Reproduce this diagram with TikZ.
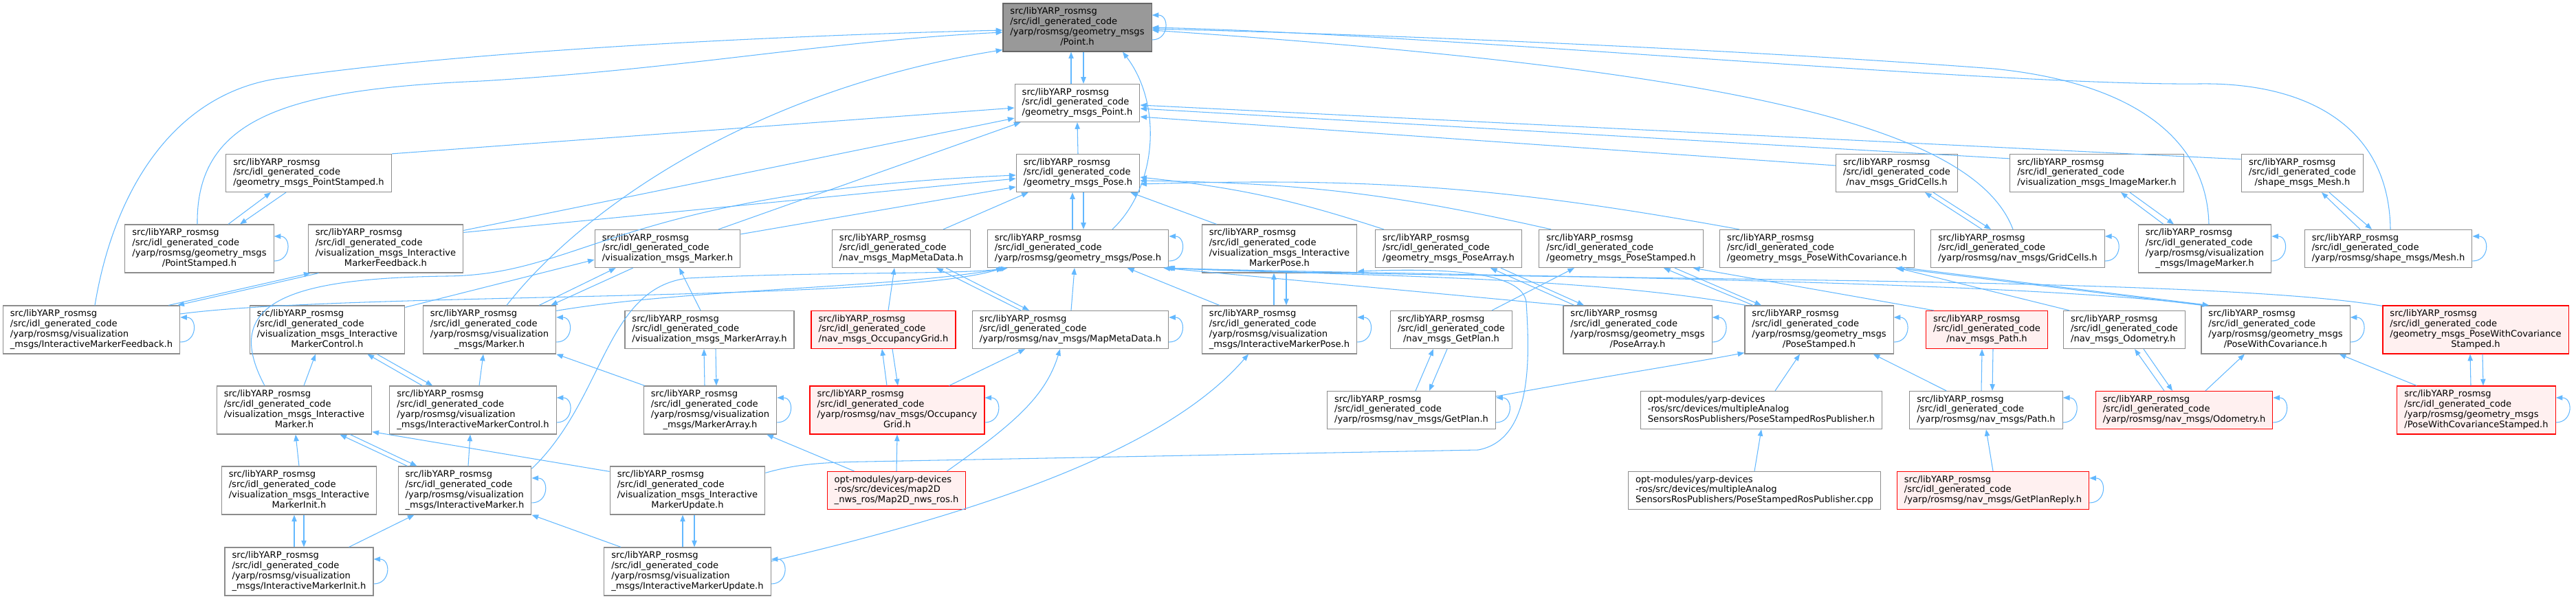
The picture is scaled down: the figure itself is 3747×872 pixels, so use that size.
\documentclass[tikz,border=0pt]{standalone}
\usepackage{fontspec}
\newfontfamily\dxfont{DejaVu Sans}
\usetikzlibrary{arrows.meta,calc}
\definecolor{edgeblue}{RGB}{99,184,255}
\definecolor{boxgray}{RGB}{140,140,140}
\definecolor{focusgray}{RGB}{153,153,153}
\definecolor{truncfill}{RGB}{255,240,240}
\definecolor{truncred}{RGB}{255,0,0}
\newcommand{\fl}[1]{\begin{tabular}{@{}l@{}}#1\end{tabular}}
\newcommand{\ctr}[1]{\multicolumn{1}{@{}c@{}}{#1}}
\newcommand{\gen}{src/libYARP\_rosmsg\\/src/idl\_generated\_code\\}
% two arrows between a header and its twin below it
\newcommand{\twoway}[4]{%
  \draw[edge] ($(#2.north)+(#3,0)$) -- ($(#1.south)+(#3,0)$);
  \draw[edge] ($(#1.south)+(#3+#4,0)$) -- ($(#2.north)+(#3+#4,0)$);}

\begin{document}
\begin{tikzpicture}[x=0.02cm,y=0.02cm,
  file/.style={draw=boxgray,fill=white,line width=0.7pt,font=\dxfont\fontsize{7.45}{8.5}\selectfont,inner xsep=6pt,inner ysep=2.9pt},
  focus/.style={file,fill=focusgray,draw=black!60},
  trunc/.style={file,fill=truncfill,draw=truncred},
  edge/.style={draw=edgeblue,line width=0.6pt,-{Triangle[length=5.5pt,width=4.2pt]}}]
  \useasboundingbox (0,0) rectangle (3747,-872);

  % row 1 to 3
  \node[focus] (Point) at (1567,-40) {\fl{\gen/yarp/rosmsg/geometry\_msgs\\\ctr{/Point.h}}};
  \node[file] (gPoint) at (1567,-150) {\fl{\gen/geometry\_msgs\_Point.h}};
  \node[file] (gPointStamped) at (449,-252) {\fl{\gen/geometry\_msgs\_PointStamped.h}};
  \node[file] (gPose) at (1568,-252) {\fl{\gen/geometry\_msgs\_Pose.h}};
  \node[file] (nGridCells) at (2759,-252) {\fl{\gen\ctr{/nav\_msgs\_GridCells.h}}};
  \node[file] (vImageMarker) at (3050,-252) {\fl{\gen/visualization\_msgs\_ImageMarker.h}};
  \node[file] (sMesh) at (3349,-252) {\fl{\gen\ctr{/shape\_msgs\_Mesh.h}}};

  % row 4
  \node[file] (yPointStamped) at (290,-362) {\fl{\gen/yarp/rosmsg/geometry\_msgs\\\ctr{/PointStamped.h}}};
  \node[file] (vIMFeedback) at (561,-362) {\fl{\gen/visualization\_msgs\_Interactive\\\ctr{MarkerFeedback.h}}};
  \node[file] (vMarker) at (971,-362) {\fl{\gen/visualization\_msgs\_Marker.h}};
  \node[file] (nMapMetaData) at (1311,-362) {\fl{\gen/nav\_msgs\_MapMetaData.h}};
  \node[file] (yPose) at (1568,-362) {\fl{\gen/yarp/rosmsg/geometry\_msgs/Pose.h}};
  \node[file] (vIMPose) at (1861,-362) {\fl{\gen/visualization\_msgs\_Interactive\\\ctr{MarkerPose.h}}};
  \node[file] (gPoseArray) at (2107,-362) {\fl{\gen/geometry\_msgs\_PoseArray.h}};
  \node[file] (gPoseStamped) at (2358,-362) {\fl{\gen/geometry\_msgs\_PoseStamped.h}};
  \node[file] (gPoseWithCov) at (2643,-362) {\fl{\gen/geometry\_msgs\_PoseWithCovariance.h}};
  \node[file] (yGridCells) at (2935,-362) {\fl{\gen/yarp/rosmsg/nav\_msgs/GridCells.h}};
  \node[file] (yImageMarker) at (3207,-362) {\fl{\gen/yarp/rosmsg/visualization\\\ctr{\_msgs/ImageMarker.h}}};
  \node[file] (yMesh) at (3474,-362) {\fl{\gen/yarp/rosmsg/shape\_msgs/Mesh.h}};

  % row 5
  \node[file] (yIMFeedback) at (133,-480) {\fl{\gen/yarp/rosmsg/visualization\\\ctr{\_msgs/InteractiveMarkerFeedback.h}}};
  \node[file] (vIMControl) at (476,-480) {\fl{\gen/visualization\_msgs\_Interactive\\\ctr{MarkerControl.h}}};
  \node[file] (yMarker) at (712,-480) {\fl{\gen/yarp/rosmsg/visualization\\\ctr{\_msgs/Marker.h}}};
  \node[file] (vMarkerArray) at (1032,-480) {\fl{\gen/visualization\_msgs\_MarkerArray.h}};
  \node[trunc] (nOccGrid) at (1285,-480) {\fl{\gen/nav\_msgs\_OccupancyGrid.h}};
  \node[file] (yMapMetaData) at (1557,-480) {\fl{\gen/yarp/rosmsg/nav\_msgs/MapMetaData.h}};
  \node[file] (yIMPose) at (1861,-480) {\fl{\gen/yarp/rosmsg/visualization\\\ctr{\_msgs/InteractiveMarkerPose.h}}};
  \node[file] (nGetPlan) at (2111,-480) {\fl{\gen\ctr{/nav\_msgs\_GetPlan.h}}};
  \node[file] (yPoseArray) at (2382,-480) {\fl{\gen/yarp/rosmsg/geometry\_msgs\\\ctr{/PoseArray.h}}};
  \node[file] (yPoseStamped) at (2646,-480) {\fl{\gen/yarp/rosmsg/geometry\_msgs\\\ctr{/PoseStamped.h}}};
  \node[trunc] (nPath) at (2890,-480) {\fl{\gen\ctr{/nav\_msgs\_Path.h}}};
  \node[file] (nOdometry) at (3090,-480) {\fl{\gen/nav\_msgs\_Odometry.h}};
  \node[file] (yPoseWithCov) at (3310,-480) {\fl{\gen/yarp/rosmsg/geometry\_msgs\\\ctr{/PoseWithCovariance.h}}};
  \node[trunc] (gPoseWithCovStamped) at (3601,-480) {\fl{\gen/geometry\_msgs\_PoseWithCovariance\\\ctr{Stamped.h}}};

  % row 6
  \node[file] (vIMarker) at (428,-597) {\fl{\gen/visualization\_msgs\_Interactive\\\ctr{Marker.h}}};
  \node[file] (yIMControl) at (688,-597) {\fl{\gen/yarp/rosmsg/visualization\\\ctr{\_msgs/InteractiveMarkerControl.h}}};
  \node[file] (yMarkerArray) at (1033,-597) {\fl{\gen/yarp/rosmsg/visualization\\\ctr{\_msgs/MarkerArray.h}}};
  \node[trunc] (yOccGrid) at (1305,-597) {\fl{\gen/yarp/rosmsg/nav\_msgs/Occupancy\\\ctr{Grid.h}}};
  \node[file] (yGetPlan) at (2053,-597) {\fl{\gen/yarp/rosmsg/nav\_msgs/GetPlan.h}};
  \node[file] (pubH) at (2562,-597) {\fl{opt-modules/yarp-devices\\-ros/src/devices/multipleAnalog\\SensorsRosPublishers/PoseStampedRosPublisher.h}};
  \node[file] (yPath) at (2889,-597) {\fl{\gen/yarp/rosmsg/nav\_msgs/Path.h}};
  \node[trunc] (yOdometry) at (3177,-597) {\fl{\gen/yarp/rosmsg/nav\_msgs/Odometry.h}};
  \node[trunc] (yPoseWithCovStamped) at (3602,-597) {\fl{\gen/yarp/rosmsg/geometry\_msgs\\/PoseWithCovarianceStamped.h}};

  % row 7 and 8
  \node[file] (vIMInit) at (435,-714) {\fl{\gen/visualization\_msgs\_Interactive\\\ctr{MarkerInit.h}}};
  \node[file] (yIMarker) at (676,-714) {\fl{\gen/yarp/rosmsg/visualization\\\ctr{\_msgs/InteractiveMarker.h}}};
  \node[file] (vIMUpdate) at (1000,-714) {\fl{\gen/visualization\_msgs\_Interactive\\\ctr{MarkerUpdate.h}}};
  \node[trunc] (map2d) at (1304,-714) {\fl{opt-modules/yarp-devices\\-ros/src/devices/map2D\\\_nws\_ros/Map2D\_nws\_ros.h}};
  \node[file] (pubCpp) at (2552,-714) {\fl{opt-modules/yarp-devices\\-ros/src/devices/multipleAnalog\\SensorsRosPublishers/PoseStampedRosPublisher.cpp}};
  \node[trunc] (yGetPlanReply) at (2899,-714) {\fl{\gen/yarp/rosmsg/nav\_msgs/GetPlanReply.h}};
  \node[file] (yIMInit) at (435,-832) {\fl{\gen/yarp/rosmsg/visualization\\\ctr{\_msgs/InteractiveMarkerInit.h}}};
  \node[file] (yIMUpdate) at (1000,-832) {\fl{\gen/yarp/rosmsg/visualization\\\ctr{\_msgs/InteractiveMarkerUpdate.h}}};

  % self includes
  \foreach \f in {Point,yPointStamped,yIMFeedback,yPose,yMarker,yIMControl,yMarkerArray,yOccGrid,yMapMetaData,yIMPose,yPoseArray,yPoseStamped,yGetPlan,yGridCells,yImageMarker,yMesh,yPath,yOdometry,yPoseWithCov,yPoseWithCovStamped,yIMarker,yIMInit,yIMUpdate,yGetPlanReply}
    \draw[edge] ($(\f.east)+(0,-18)$) to[out=0,in=0,looseness=1.8] ($(\f.east)+(0,18)$);

  % twins one above the other
  \twoway{Point}{gPoint}{-9}{18}
  \twoway{gPose}{yPose}{-8}{16}
  \twoway{vMarkerArray}{yMarkerArray}{-8}{17}
  \twoway{vIMPose}{yIMPose}{-8}{18}
  \twoway{nPath}{yPath}{-7}{16}
  \twoway{gPoseWithCovStamped}{yPoseWithCovStamped}{-8}{18}
  \twoway{vIMInit}{yIMInit}{-7}{14}
  \twoway{vIMUpdate}{yIMUpdate}{-7}{17}

  % twins side by side
  \draw[edge] ($(yPointStamped.north)+(42,0)$) -- ($(gPointStamped.south)+(-55,0)$);
  \draw[edge] ($(gPointStamped.south)+(-33,0)$) -- ($(yPointStamped.north)+(59,0)$);
  \draw[edge] ($(yIMFeedback.north east)+(-17,0)$) -- ($(vIMFeedback.south west)+(4,0)$);
  \draw[edge] ($(vIMFeedback.south west)+(16,0)$) -- ($(yIMFeedback.north east)+(-4,0)$);
  \draw[edge] ($(yMarker.north east)+(-25,0)$) -- ($(vMarker.south west)+(31,0)$);
  \draw[edge] ($(vMarker.south west)+(56,0)$) -- ($(yMarker.north east)+(-8,0)$);
  \draw[edge] ($(yIMControl.north west)+(48,0)$) -- ($(vIMControl.south east)+(-55,0)$);
  \draw[edge] ($(vIMControl.south east)+(-41,0)$) -- ($(yIMControl.north west)+(63,0)$);
  \draw[edge] ($(yIMarker.north west)+(14,0)$) -- ($(vIMarker.south east)+(-47,0)$);
  \draw[edge] ($(vIMarker.south east)+(-32,0)$) -- ($(yIMarker.north west)+(28,0)$);
  \draw[edge] ($(yOccGrid.north)+(-15,0)$) -- ($(nOccGrid.south)+(-2,0)$);
  \draw[edge] ($(nOccGrid.south)+(13,0)$) -- ($(yOccGrid.north)+(1,0)$);
  \draw[edge] ($(yMapMetaData.north)+(-72,0)$) -- ($(nMapMetaData.south)+(51,0)$);
  \draw[edge] ($(nMapMetaData.south)+(65,0)$) -- ($(yMapMetaData.north)+(-60,0)$);
  \draw[edge] ($(yPoseArray.north)+(-92,0)$) -- ($(gPoseArray.south)+(61,0)$);
  \draw[edge] ($(gPoseArray.south)+(76,0)$) -- ($(yPoseArray.north)+(-78,0)$);
  \draw[edge] ($(yPoseStamped.north)+(-96,0)$) -- ($(gPoseStamped.south)+(62,0)$);
  \draw[edge] ($(gPoseStamped.south)+(78,0)$) -- ($(yPoseStamped.north)+(-84,0)$);
  \draw[edge] ($(yGetPlan.north)+(6,0)$) -- ($(nGetPlan.south)+(-26,0)$);
  \draw[edge] ($(nGetPlan.south)+(-6,0)$) -- ($(yGetPlan.north)+(26,0)$);
  \draw[edge] ($(yOdometry.north)+(-29,0)$) -- ($(nOdometry.south)+(15,0)$);
  \draw[edge] ($(nOdometry.south)+(28,0)$) -- ($(yOdometry.north)+(-17,0)$);
  \draw[edge] ($(yPoseWithCov.north west)+(2,0)$) -- ($(gPoseWithCov.south)+(114,0)$);
  \draw[edge] ($(gPoseWithCov.south)+(129,0)$) -- ($(yPoseWithCov.north west)+(12,0)$);
  \draw[edge] ($(yImageMarker.north)+(-60,0)$) -- ($(vImageMarker.south)+(35,0)$);
  \draw[edge] ($(vImageMarker.south)+(48,0)$) -- ($(yImageMarker.north)+(-45,0)$);
  \draw[edge] ($(yMesh.north)+(-41,0)$) -- ($(sMesh.south)+(28,0)$);
  \draw[edge] ($(sMesh.south)+(39,0)$) -- ($(yMesh.north)+(-24,0)$);
  \draw[edge] ($(yGridCells.north)+(-52,0)$) -- ($(nGridCells.south)+(41,0)$);
  \draw[edge] ($(nGridCells.south)+(53,0)$) -- ($(yGridCells.north)+(-39,0)$);

  % into Point.h
  \draw[edge] ($(yPointStamped.north)+(-3,0)$) .. controls (285,-170) and (420,-130) .. (700,-118)
    .. controls (1000,-100) and (1200,-60) .. ($(Point.west)+(0,-7)$);
  \draw[edge] ($(yIMFeedback.north)+(5,0)$) .. controls (165,-280) and (250,-140) .. (400,-115)
    .. controls (700,-70) and (1200,-50) .. ($(Point.west)+(0,-4)$);
  \draw[edge] ($(yMarker.north)+(25,0)$) .. controls (850,-300) and (1100,-130) .. ($(Point.south west)+(0,3)$);
  \draw[edge] ($(yPose.north)+(50,0)$) .. controls (1685,-270) and (1690,-150) .. ($(Point.south)+(66,0)$);
  \draw[edge] ($(yGridCells.north)+(-7,0)$) .. controls (2870,-180) and (2500,-100) .. ($(Point.east)+(0,-4)$);
  \draw[edge] ($(yImageMarker.north)+(6,0)$) .. controls (3210,-200) and (3100,-120) .. (2900,-100)
    .. controls (2500,-70) and (2000,-50) .. ($(Point.east)+(0,-2)$);
  \draw[edge] ($(yMesh.north)+(3,0)$) .. controls (3475,-180) and (3350,-120) .. (3200,-122)
    .. controls (2900,-125) and (2100,-50) .. (Point.east);

  % into geometry_msgs_Point.h
  \draw[edge] (gPose.north) -- (gPoint.south);
  \draw[edge] (gPointStamped.north east) -- ($(gPoint.west)+(0,-7)$);
  \draw[edge] ($(vIMFeedback.north east)+(0,-9)$) -- ($(gPoint.west)+(0,-22)$);
  \draw[edge] ($(vMarker.north)+(74,0)$) -- ($(gPoint.south west)+(9,0)$);
  \draw[edge] ($(nGridCells.west)+(0,11)$) -- ($(gPoint.east)+(0,-20)$);
  \draw[edge] ($(vImageMarker.north west)+(0,-7)$) -- ($(gPoint.east)+(0,-8)$);
  \draw[edge] ($(sMesh.north west)+(0,-8)$) -- ($(gPoint.east)+(0,-3)$);

  % into geometry_msgs_Pose.h
  \draw[edge] ($(vIMFeedback.north east)+(0,-12)$) -- ($(gPose.west)+(0,-8)$);
  \draw[edge] ($(vMarker.north east)+(0,-7)$) -- ($(gPose.west)+(0,-20)$);
  \draw[edge] ($(vIMarker.north)+(-43,0)$) .. controls (320,-440) and (420,-405) .. (650,-402)
    .. controls (850,-400) and (900,-280) .. ($(gPose.west)+(0,-3)$);
  \draw[edge] ($(nMapMetaData.north)+(61,0)$) -- ($(gPose.south west)+(18,0)$);
  \draw[edge] ($(vIMPose.north west)+(22,0)$) -- ($(gPose.south east)+(-14,0)$);
  \draw[edge] ($(gPoseArray.north west)+(13,0)$) to[bend right=6] ($(gPose.east)+(0,-6)$);
  \draw[edge] ($(gPoseStamped.north west)+(18,0)$) to[bend right=6] ($(gPose.east)+(0,-11)$);
  \draw[edge] ($(gPoseWithCov.north west)+(29,0)$) to[bend right=6] ($(gPose.east)+(0,-16)$);

  % into yarp/rosmsg/geometry_msgs/Pose.h
  \draw[edge] ($(yIMFeedback.east)+(0,23)$) .. controls (500,-425) and (1300,-440) .. ($(yPose.south west)+(23,0)$);
  \draw[edge] ($(yMarker.north east)+(0,-8)$) .. controls (1000,-420) and (1300,-420) .. ($(yPose.south west)+(27,0)$);
  \draw[edge] ($(yIMarker.north east)+(0,-4)$) .. controls (880,-580) and (880,-420) .. (1000,-405)
    .. controls (1200,-395) and (1400,-400) .. ($(yPose.south west)+(30,0)$);
  \draw[edge] ($(yMapMetaData.north)+(1,0)$) -- ($(yPose.south)+(-5,0)$);
  \draw[edge] ($(yIMPose.north west)+(26,0)$) -- ($(yPose.south)+(72,0)$);
  \draw[edge] ($(yPoseArray.north west)+(2,0)$) -- ($(yPose.south east)+(-8,0)$);
  \draw[edge] ($(yPoseStamped.north west)+(2,0)$) .. controls (2300,-400) and (1900,-400) .. ($(yPose.south east)+(-5,0)$);
  \draw[edge] ($(yPoseWithCov.north west)+(6,0)$) .. controls (2900,-405) and (2000,-400) .. ($(yPose.south east)+(-3,0)$);
  \draw[edge] ($(gPoseWithCovStamped.north west)+(0,-1)$) .. controls (3200,-400) and (2200,-410) .. ($(yPose.south east)+(-1,0)$);

  % visualization_msgs
  \draw[edge] ($(vIMControl.north east)+(0,-3)$) -- ($(vMarker.west)+(0,-16)$);
  \draw[edge] ($(yIMControl.north)+(9,0)$) -- ($(yMarker.south)+(-9,0)$);
  \draw[edge] ($(vIMarker.north)+(14,0)$) -- ($(vIMControl.south)+(-17,0)$);
  \draw[edge] (vIMInit.north) -- ($(vIMarker.south)+(2,0)$);
  \draw[edge] ($(vIMUpdate.north west)+(0,-8)$) -- ($(vIMarker.south east)+(0,4)$);
  \draw[edge] ($(yIMInit.north east)+(-36,0)$) -- ($(yIMarker.south west)+(24,0)$);
  \draw[edge] ($(yIMarker.north)+(5,0)$) -- ($(yIMControl.south)+(-4,0)$);
  \draw[edge] ($(yIMUpdate.north west)+(25,0)$) -- (yIMarker.south east);
  \draw[edge] ($(yIMUpdate.east)+(0,15)$) .. controls (1450,-740) and (1700,-650) .. ($(yIMPose.south)+(-45,0)$);
  \draw[edge] ($(vIMUpdate.north east)+(0,-10)$) .. controls (1160,-675) and (1200,-673) .. (1260,-672)
    -- (2150,-655) .. controls (2230,-640) and (2225,-520) .. (2220,-440)
    .. controls (2215,-395) and (2100,-390) .. ($(vIMPose.east)+(0,-33)$);
  \draw[edge] ($(vMarkerArray.north)+(-13,0)$) -- ($(vMarker.south)+(17,0)$);
  \draw[edge] ($(yMarkerArray.north west)+(2,0)$) -- (yMarker.south east);

  % nav_msgs and the devices
  \draw[edge] ($(map2d.north west)+(40,0)$) -- ($(yMarkerArray.south east)+(-15,0)$);
  \draw[edge] (map2d.north) -- (yOccGrid.south);
  \draw[edge] ($(map2d.north east)+(-28,0)$) .. controls (1470,-620) and (1520,-580) .. ($(yMapMetaData.south)+(-15,0)$);
  \draw[edge] ($(yOccGrid.north east)+(-52,0)$) -- ($(yMapMetaData.south)+(-66,0)$);
  \draw[edge] ($(nOccGrid.north)+(7,0)$) -- ($(nMapMetaData.south)+(-10,0)$);
  \draw[edge] ($(nGetPlan.north east)+(-30,0)$) -- ($(gPoseStamped.south)+(-68,0)$);
  \draw[edge] ($(yGetPlan.east)+(0,20)$) .. controls (2350,-545) and (2450,-530) .. ($(yPoseStamped.south west)+(0,2)$);
  \draw[edge] ($(pubH.north)+(20,0)$) -- ($(yPoseStamped.south)+(-28,0)$);
  \draw[edge] (pubCpp.north) -- (pubH.south);
  \draw[edge] ($(nPath.north west)+(12,0)$) -- ($(gPoseStamped.south east)+(-15,0)$);
  \draw[edge] ($(yPath.north west)+(54,0)$) -- ($(yPoseStamped.south east)+(-30,0)$);
  \draw[edge] (yGetPlanReply.north) -- (yPath.south);
  \draw[edge] ($(nOdometry.north west)+(9,0)$) -- ($(gPoseWithCov.south east)+(-25,0)$);
  \draw[edge] ($(yOdometry.north)+(31,0)$) -- ($(yPoseWithCov.south)+(-45,0)$);
  \draw[edge] ($(yPoseWithCovStamped.north west)+(29,0)$) -- ($(yPoseWithCov.south east)+(-16,0)$);
\end{tikzpicture}
\end{document}
